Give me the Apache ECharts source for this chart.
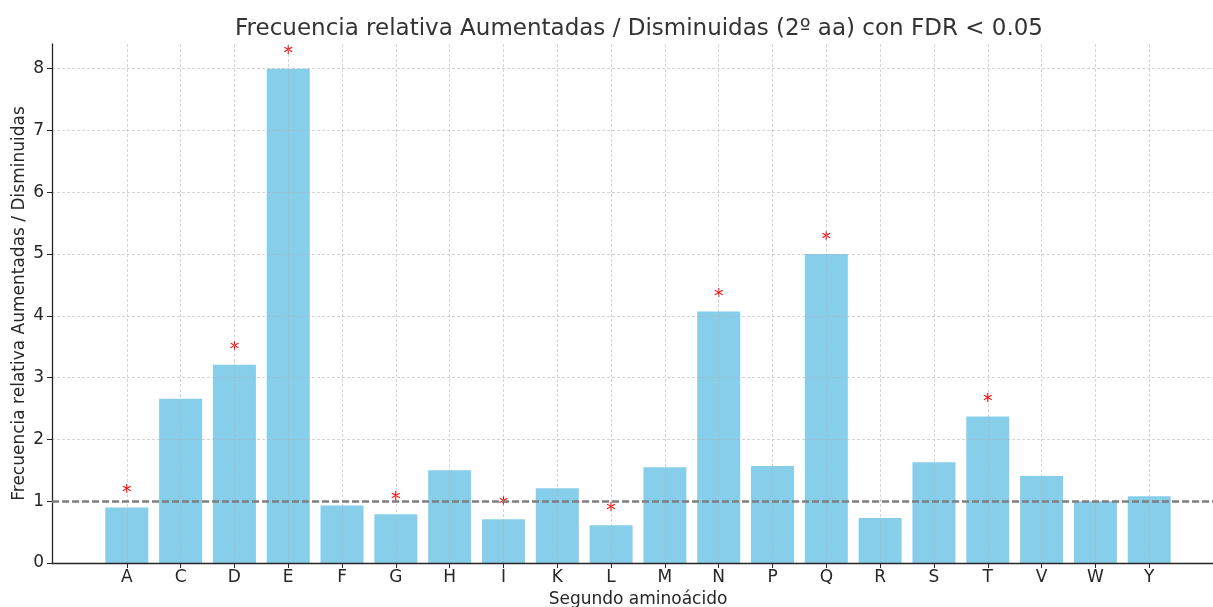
<!DOCTYPE html>
<html>
<head>
<meta charset="utf-8">
<script src="https://cdn.jsdelivr.net/npm/echarts@6/dist/echarts.min.js"></script>
<style>
  html, body { margin: 0; padding: 0; background: #fff; }
  #chart { width: 1213px; height: 607px; }
</style>
</head>
<body>
<div id="chart"></div>
<script>
  const categories = ["A", "C", "D", "E", "F", "G", "H", "I", "K", "L", "M", "N", "P", "Q", "R", "S", "T", "V", "W", "Y"];
  const ratios = [0.9, 2.66, 3.21, 8.0, 0.93, 0.79, 1.5, 0.71, 1.21, 0.61, 1.55, 4.07, 1.57, 5.0, 0.73, 1.63, 2.37, 1.41, 1.0, 1.08];
  const significant = ["A", "D", "E", "G", "I", "L", "N", "Q", "T"];
  const yTicks = [0, 1, 2, 3, 4, 5, 6, 7, 8];
  const refLevel = 1;

  const textColor = "#262626";
  const font = "DejaVu Sans";

  const barData = categories.map((c, i) => ({
    value: [i, ratios[i]],
    label: { show: significant.includes(c) }
  }));

  const chart = echarts.init(document.getElementById("chart"));
  chart.setOption({
    animation: false,
    textStyle: { fontFamily: font },
    title: {
      text: "Frecuencia relativa Aumentadas / Disminuidas (2º aa) con FDR < 0.05",
      left: 634,
      textAlign: "center",
      top: 13,
      textStyle: { fontSize: 23, fontWeight: "normal", color: "#333", fontFamily: font }
    },
    grid: { left: 52, right: -11, top: 44, bottom: 44, containLabel: false, outerBoundsMode: "none" },
    xAxis: {
      type: "value",
      min: -1.39,
      max: 20.39,
      z: 3,
      name: "Segundo aminoácido",
      nameLocation: "middle",
      nameGap: 28,
      nameMoveOverlap: false,
      nameTextStyle: { fontSize: 17, color: textColor },
      axisLine: { show: true, onZero: false, lineStyle: { color: "#262626", width: 1.3 } },
      axisTick: { show: true, length: 5, customValues: categories.map((c, i) => i), lineStyle: { color: "#262626" } },
      axisLabel: {
        customValues: categories.map((c, i) => i),
        formatter: v => categories[Math.round(v)] || "",
        fontSize: 17, color: textColor, margin: 6
      },
      splitLine: { show: true, lineStyle: { type: [3, 2], color: "rgba(176,176,176,0.55)", width: 1 } }
    },
    yAxis: {
      type: "value",
      min: 0,
      max: 8.4,
      z: 3,
      name: "Frecuencia relativa Aumentadas / Disminuidas",
      nameLocation: "middle",
      nameGap: 24,
      nameMoveOverlap: false,
      nameTextStyle: { fontSize: 17, color: textColor },
      axisLine: { show: true, onZero: false, lineStyle: { color: "#262626", width: 1.3 } },
      axisTick: { show: true, length: 5, customValues: yTicks, lineStyle: { color: "#262626" } },
      axisLabel: { customValues: yTicks, fontSize: 17, color: textColor, margin: 8 },
      splitLine: { show: true, lineStyle: { type: [3, 2], color: "rgba(176,176,176,0.55)", width: 1 } }
    },
    series: [{
      type: "bar",
      data: barData,
      barWidth: 43,
      clip: false,
      itemStyle: { color: "#87ceeb" },
      label: {
        position: "top",
        distance: 5,
        formatter: "*",
        color: "#ff0000",
        fontSize: 19
      },
      markLine: {
        symbol: "none",
        silent: true,
        z: 10,
        label: { show: false },
        lineStyle: { type: [7, 3], color: "#7f7f7f", width: 2.5 },
        data: [{ yAxis: refLevel }]
      }
    }]
  });
</script>
</body>
</html>
